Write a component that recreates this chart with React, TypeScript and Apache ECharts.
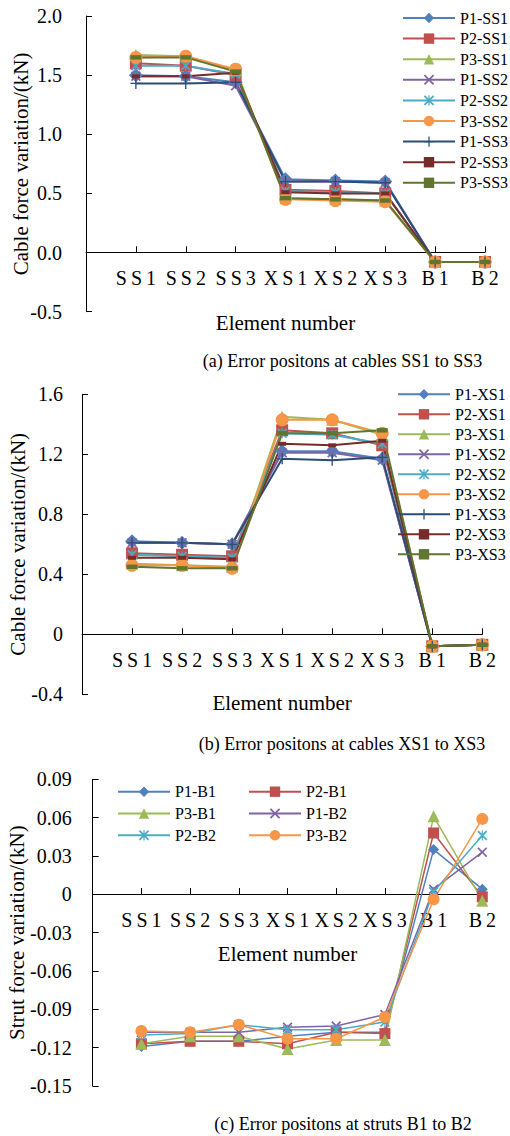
import React, { useEffect, useRef } from 'react';
import * as echarts from 'echarts';

const FONT = "'Liberation Serif', 'Times New Roman', serif";

// categories
const categories = ['SS1', 'SS2', 'SS3', 'XS1', 'XS2', 'XS3', 'B1', 'B2'];

// ---------- chart (a): error positions at cables SS1 to SS3 ----------
const namesA = ['P1-SS1', 'P2-SS1', 'P3-SS1', 'P1-SS2', 'P2-SS2', 'P3-SS2', 'P1-SS3', 'P2-SS3', 'P3-SS3'];
const aP1SS1 = [1.50, 1.49, 1.44, 0.62, 0.61, 0.60, -0.08, -0.08];
const aP2SS1 = [1.60, 1.58, 1.50, 0.53, 0.52, 0.50, -0.08, -0.08];
const aP3SS1 = [1.67, 1.66, 1.54, 0.46, 0.45, 0.44, -0.08, -0.08];
const aP1SS2 = [1.49, 1.49, 1.41, 0.60, 0.60, 0.59, -0.08, -0.08];
const aP2SS2 = [1.58, 1.58, 1.51, 0.52, 0.51, 0.50, -0.08, -0.08];
const aP3SS2 = [1.65, 1.66, 1.55, 0.45, 0.44, 0.43, -0.08, -0.08];
const aP1SS3 = [1.43, 1.43, 1.44, 0.60, 0.60, 0.59, -0.08, -0.08];
const aP2SS3 = [1.49, 1.49, 1.52, 0.51, 0.50, 0.50, -0.08, -0.08];
const aP3SS3 = [1.65, 1.65, 1.53, 0.46, 0.45, 0.44, -0.08, -0.08];
const valuesA = [aP1SS1, aP2SS1, aP3SS1, aP1SS2, aP2SS2, aP3SS2, aP1SS3, aP2SS3, aP3SS3];

// ---------- chart (b): error positions at cables XS1 to XS3 ----------
const namesB = ['P1-XS1', 'P2-XS1', 'P3-XS1', 'P1-XS2', 'P2-XS2', 'P3-XS2', 'P1-XS3', 'P2-XS3', 'P3-XS3'];
const bP1XS1 = [0.62, 0.61, 0.60, 1.22, 1.22, 1.17, -0.08, -0.07];
const bP2XS1 = [0.54, 0.53, 0.52, 1.36, 1.34, 1.26, -0.08, -0.07];
const bP3XS1 = [0.47, 0.46, 0.45, 1.45, 1.43, 1.33, -0.08, -0.07];
const bP1XS2 = [0.61, 0.61, 0.60, 1.21, 1.21, 1.16, -0.08, -0.07];
const bP2XS2 = [0.53, 0.52, 0.51, 1.34, 1.33, 1.27, -0.08, -0.07];
const bP3XS2 = [0.46, 0.46, 0.44, 1.43, 1.43, 1.34, -0.08, -0.07];
const bP1XS3 = [0.61, 0.61, 0.60, 1.17, 1.16, 1.18, -0.08, -0.07];
const bP2XS3 = [0.51, 0.51, 0.50, 1.27, 1.26, 1.29, -0.08, -0.07];
const bP3XS3 = [0.45, 0.44, 0.44, 1.34, 1.34, 1.36, -0.08, -0.07];
const valuesB = [bP1XS1, bP2XS1, bP3XS1, bP1XS2, bP2XS2, bP3XS2, bP1XS3, bP2XS3, bP3XS3];

// ---------- chart (c): error positions at struts B1 to B2 ----------
const namesC = ['P1-B1', 'P2-B1', 'P3-B1', 'P1-B2', 'P2-B2', 'P3-B2'];
const cP1B1 = [-0.119, -0.115, -0.115, -0.111, -0.108, -0.108, 0.035, 0.004];
const cP2B1 = [-0.117, -0.115, -0.115, -0.117, -0.108, -0.109, 0.048, -0.002];
const cP3B1 = [-0.117, -0.111, -0.111, -0.121, -0.114, -0.114, 0.061, -0.005];
const cP1B2 = [-0.108, -0.108, -0.108, -0.104, -0.103, -0.094, 0.004, 0.033];
const cP2B2 = [-0.110, -0.109, -0.102, -0.106, -0.106, -0.100, 0.002, 0.046];
const cP3B2 = [-0.107, -0.108, -0.102, -0.113, -0.113, -0.096, -0.004, 0.059];
const valuesC = [cP1B1, cP2B1, cP3B1, cP1B2, cP2B2, cP3B2];

// ---------- styles ----------
const palette = ['#4F81BD', '#C0504D', '#9BBB59', '#8064A2', '#4BACC6', '#F79646', '#2C4D75', '#772C2A', '#5F7530'];
const X_PATH = 'path://M0,1.2L1.2,0L5,3.8L8.8,0L10,1.2L6.2,5L10,8.8L8.8,10L5,6.2L1.2,10L0,8.8L3.8,5Z';
const STAR_PATH = 'path://M0,1.2L1.2,0L5,3.8L8.8,0L10,1.2L6.2,5L10,8.8L8.8,10L5,6.2L1.2,10L0,8.8L3.8,5Z M4.4,0L5.6,0L5.6,10L4.4,10Z';
const PLUS_PATH = 'path://M4.4,0L5.6,0L5.6,4.4L10,4.4L10,5.6L5.6,5.6L5.6,10L4.4,10L4.4,5.6L0,5.6L0,4.4L4.4,4.4Z';
const DASH_S = 'path://M0,0L8,0L8,4L0,4Z';
const DASH_L = 'path://M0,0L10,0L10,4L0,4Z';
const symbols = ['diamond', 'rect', 'triangle', X_PATH, STAR_PATH, 'circle', PLUS_PATH, DASH_S, DASH_L];
const sizesAB = [14, 12, 12, 10, 10, 13, 11, 8, 11];
const sizesC = [11, 11, 12, 10, 10, 12];

const xCats = ['', ...categories];
const spaced = (v: string) => v.split('').join('\u2009');

function buildSeries(names: string[], values: number[][], idx: number, sizes: number[], lw: number) {
  return names.map((name, i) => ({
    name,
    type: 'line',
    xAxisIndex: idx,
    yAxisIndex: idx,
    data: values[i].map((v, j) => [categories[j], v]),
    symbol: symbols[i],
    symbolSize: sizes[i],
    symbolKeepAspect: true,
    lineStyle: { color: palette[i], width: lw },
    itemStyle: { color: palette[i] },
    emphasis: { disabled: true },
  }));
}

// offset lifts the category axis from the grid bottom up to the zero line
function xAxisCfg(idx: number, offset: number, nameGap: number) {
  return {
    type: 'category',
    gridIndex: idx,
    data: xCats,
    boundaryGap: false,
    offset,
    axisLine: { onZero: false, lineStyle: { color: '#000', width: 1 } },
    axisTick: { show: true, inside: true, length: 6, interval: 0, lineStyle: { color: '#000' } },
    axisLabel: { interval: 0, margin: 16, fontSize: 20, fontFamily: FONT, color: '#000', formatter: spaced },
    splitLine: { show: false },
    name: 'Element number',
    nameLocation: 'middle',
    nameGap,
    nameMoveOverlap: false,
    nameTextStyle: { fontSize: 21, fontFamily: FONT, color: '#000' },
  };
}

function yAxisCfg(idx: number, min: number, max: number, interval: number, name: string, nameGap: number, margin: number, fmt: (v: number) => string) {
  return {
    type: 'value',
    gridIndex: idx,
    min,
    max,
    interval,
    axisLine: { show: true, onZero: false, lineStyle: { color: '#000', width: 1 } },
    axisTick: { show: true, inside: true, length: 6, lineStyle: { color: '#000' } },
    axisLabel: { margin, fontSize: 20, fontFamily: FONT, color: '#000', formatter: fmt },
    splitLine: { show: false },
    name,
    nameLocation: 'middle',
    nameGap,
    nameMoveOverlap: false,
    nameTextStyle: { fontSize: 21, fontFamily: FONT, color: '#000' },
  };
}

function legendCfg(data: string[], left: number, top: number, gap: number) {
  return {
    show: true,
    orient: 'vertical',
    left,
    top,
    padding: 0,
    itemWidth: 52,
    itemHeight: 13,
    itemGap: gap,
    data,
    selectedMode: false,
    textStyle: { fontSize: 16, fontFamily: FONT, color: '#000' },
  };
}

function caption(text: string, x: number, y: number) {
  return {
    type: 'text',
    x,
    y,
    style: { text, fontSize: 18, fontFamily: FONT, fill: '#000', align: 'center', verticalAlign: 'middle', textAlign: 'center', textVerticalAlign: 'middle' },
  };
}

export default function App() {
  const ref = useRef<HTMLDivElement>(null);
  useEffect(() => {
    if (!ref.current) return;
    const chart = echarts.init(ref.current, null, { renderer: 'svg' });
    const option: any = {
      animation: false,
      textStyle: { fontFamily: FONT },
      grid: [
        { left: 86, top: 16, width: 399, height: 295.7, containLabel: false, outerBoundsMode: 'none' },
        { left: 82, top: 394.3, width: 400.3, height: 300, containLabel: false, outerBoundsMode: 'none' },
        { left: 92.7, top: 779.3, width: 389.6, height: 306.7, containLabel: false, outerBoundsMode: 'none' },
      ],
      xAxis: [xAxisCfg(0, -59.4, 60), xAxisCfg(1, -60, 58), xAxisCfg(2, -192, 49.5)],
      yAxis: [
        yAxisCfg(0, -0.5, 2, 0.5, 'Cable force variation/(kN)', 55, 24, (v) => v.toFixed(1)),
        yAxisCfg(1, -0.4, 1.6, 0.4, 'Cable force variation/(kN)', 54, 19, (v) => String(Number(v.toFixed(1)))),
        yAxisCfg(2, -0.15, 0.09, 0.03, 'Strut force variation/(kN)', 65, 21, (v) => {
          const r = Number(v.toFixed(2));
          return r === 0 ? '0' : r.toFixed(2);
        }),
      ],
      legend: [
        legendCfg(namesA, 402, 10, 4.6),
        legendCfg(namesB, 397, 386.3, 4),
        legendCfg([namesC[0], namesC[2], namesC[4]], 117, 783.7, 5.8),
        legendCfg([namesC[1], namesC[3], namesC[5]], 248, 783.7, 5.8),
      ],
      series: [
        ...buildSeries(namesA, valuesA, 0, sizesAB, 2),
        ...buildSeries(namesB, valuesB, 1, sizesAB, 2),
        ...buildSeries(namesC, valuesC, 2, sizesC, 1.5),
      ],
      graphic: [
        caption('(a) Error positons at cables SS1 to SS3', 342.5, 361),
        caption('(b) Error positons at cables XS1 to XS3', 342, 744),
        caption('(c) Error positons at struts B1 to B2', 343, 1124),
      ],
    };
    chart.setOption(option);
    return () => chart.dispose();
  }, []);
  return (
    <div
      ref={ref}
      style={{ position: 'fixed', left: 0, top: 0, width: 510, height: 1136, background: '#fff' }}
    />
  );
}
